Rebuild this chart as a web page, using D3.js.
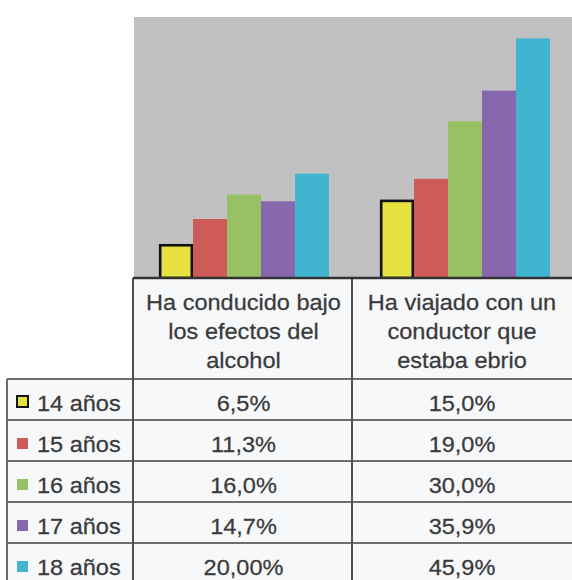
<!DOCTYPE html>
<html><head><meta charset="utf-8">
<script src="https://cdn.jsdelivr.net/npm/d3@7"></script>
<style>html,body{margin:0;padding:0;background:#fff;}svg{display:block;}</style>
</head><body>
<svg id="chart" width="572" height="580"></svg>
<script>
const categories = ["Ha conducido bajo los efectos del alcohol", "Ha viajado con un conductor que estaba ebrio"];
const categoryLines = [["Ha conducido bajo", "los efectos del", "alcohol"], ["Ha viajado con un", "conductor que", "estaba ebrio"]];
const series = ["14 años", "15 años", "16 años", "17 años", "18 años"];
const conducido = [6.5, 11.3, 16.0, 14.7, 20.0];
const viajado = [15.0, 19.0, 30.0, 35.9, 45.9];
const conducidoLabels = ["6,5%", "11,3%", "16,0%", "14,7%", "20,00%"];
const viajadoLabels = ["15,0%", "19,0%", "30,0%", "35,9%", "45,9%"];
const colors = ["#e6e13e", "#cd5b57", "#98c163", "#8868ac", "#41b5cf"];

const svg = d3.select("#chart");
const W = 572, H = 580;
const plotTop = 17, base = 278, plotLeft = 134;
const font = "'Liberation Sans', Arial, Helvetica, sans-serif";
const txt = "#3a3a3a";
const sx = 1.07;

const y = d3.scaleLinear().domain([0, 50]).range([base, plotTop]);
const x0 = d3.scaleBand().domain(categories).range([plotLeft, 576]);
const x1 = d3.scaleBand().domain(series).range([25, 195]);
const color = d3.scaleOrdinal().domain(series).range(colors);

// plot background
svg.append("rect").attr("x", plotLeft).attr("y", plotTop).attr("width", W - plotLeft).attr("height", base - plotTop).attr("fill", "#c1c1c3");

const valuesByCat = [conducido, viajado];
categories.forEach((c, ci) => {
  const g = svg.append("g").attr("transform", `translate(${x0(c)},0)`);
  series.forEach((s, si) => {
    const v = valuesByCat[ci][si];
    const r = g.append("rect")
      .attr("x", x1(s)).attr("width", x1.bandwidth())
      .attr("y", y(v)).attr("height", y(0) - y(v))
      .attr("fill", color(s));
    if (si === 0) {
      r.attr("x", x1(s) + 1.2).attr("width", x1.bandwidth() - 2.4)
       .attr("y", y(v) + 1.2).attr("height", y(0) - y(v) - 1.2)
       .attr("stroke", "#111").attr("stroke-width", 2.6);
    }
  });
});

function label(parent, x, yy, str, anchor) {
  return parent.append("text")
    .attr("transform", `translate(${x},${yy}) scale(${sx},1)`)
    .attr("text-anchor", anchor || "middle")
    .attr("font-family", font).attr("font-size", 22)
    .attr("fill", txt).attr("stroke", txt).attr("stroke-width", 0.25)
    .text(str);
}

// table
const colL = 7, colA = 133, colB = 352, colR = 572;
const headerBottom = 379;
const rowTops = [379, 420, 461, 502, 543];
const tbl = svg.append("g");
tbl.append("rect").attr("x", colA).attr("y", base).attr("width", colR - colA).attr("height", headerBottom - base).attr("fill", "#f7f8fa");
tbl.append("rect").attr("x", colL).attr("y", headerBottom).attr("width", colR - colL).attr("height", H - headerBottom).attr("fill", "#f7f8fa");

const lineCol = "#6e6e6e";
rowTops.forEach(yy => {
  tbl.append("line").attr("x1", colL).attr("x2", colR).attr("y1", yy).attr("y2", yy).attr("stroke", lineCol).attr("stroke-width", 2.2);
});
tbl.append("line").attr("x1", colL).attr("x2", colL).attr("y1", headerBottom).attr("y2", H).attr("stroke", lineCol).attr("stroke-width", 2);
[colA, colB].forEach(xx => {
  tbl.append("line").attr("x1", xx).attr("x2", xx).attr("y1", base).attr("y2", H).attr("stroke", "#505050").attr("stroke-width", 2);
});
svg.append("line").attr("x1", colA).attr("x2", W).attr("y1", base).attr("y2", base).attr("stroke", "#333").attr("stroke-width", 2.5);

// header text
const colCenters = [(colA + colB) / 2 + 1, (colB + colR) / 2];
categoryLines.forEach((lines, ci) => {
  lines.forEach((ln, li) => label(tbl, colCenters[ci], 310 + li * 29, ln));
});

// rows
const labelsByCat = [conducidoLabels, viajadoLabels];
series.forEach((s, si) => {
  const bl = rowTops[si] + 32;
  const sq = tbl.append("rect").attr("x", 17).attr("y", bl - 14).attr("width", 11).attr("height", 11).attr("fill", color(s));
  if (si === 0) sq.attr("stroke", "#111").attr("stroke-width", 2).attr("x", 17).attr("y", bl - 15);
  label(tbl, 37, bl, s, "start");
  labelsByCat.forEach((labs, ci) => label(tbl, colCenters[ci], bl, labs[si]));
});
</script>
</body></html>
